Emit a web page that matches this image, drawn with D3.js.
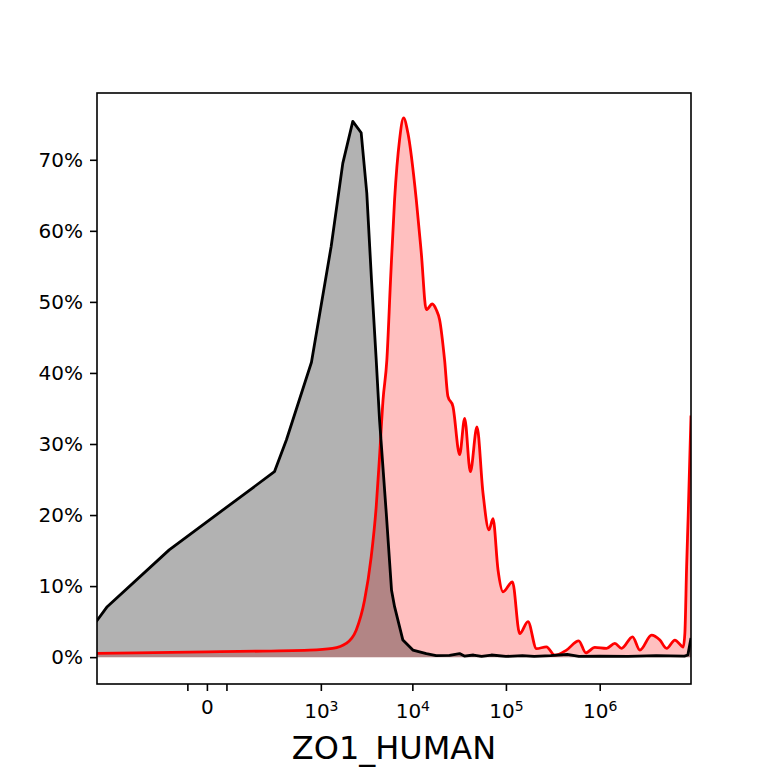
<!DOCTYPE html>
<html>
<head>
<meta charset="utf-8">
<script src="https://cdn.jsdelivr.net/npm/d3@7"></script>
<style>
  html, body { margin: 0; padding: 0; background: #fff; }
  text { font-family: "DejaVu Sans", sans-serif; fill: #000; }
</style>
</head>
<body>
<svg id="chart" width="768" height="768"></svg>
<script>
// ---- data (fluorescence intensity vs. % of max) ----
const redX = [-920, 0, 740, 1352, 1918, 2471, 3048, 3601, 4082, 4433, 4836, 5317, 5831, 6442, 7287, 8047, 8951,
  11017, 12466, 14110, 16360, 18050, 19580, 22150, 24030, 27180, 32060, 36270, 41740, 49100, 56920, 65960, 72800,
  82300, 93100, 117300, 140300, 171900, 211500, 270300, 331800, 442000, 598000, 711000, 886600, 1181700, 1449500,
  1709500, 2239000, 2680000, 3570000, 4380000, 5164000, 6334000, 7470000, 7760000, 8090000, 8440000, 8770000, 9400000];
const redY = [0.52, 0.75, 0.99, 1.23, 1.93, 3.8, 8.0, 14.1, 21.2, 28.2, 36.2, 41.8, 53.1, 64.4, 72.8, 75.9, 73.8,
  64.4, 56.9, 48.9, 49.7, 48.9, 47.5, 41.8, 36.7, 35.3, 28.5, 33.6, 26.1, 32.4, 23.1, 17.9, 19.5,
  12.3, 9.2, 10.6, 3.3, 5.0, 1.2, 1.45, 0.28, 0.99, 2.3, 0.6, 1.37, 1.23, 1.93,
  1.23, 2.86, 0.99, 3.1, 2.4, 1.23, 2.4, 1.55, 1.4, 3.4, 12.7, 19.8, 34.0];

const blackX = [-920, -686, -99, 276, 393, 781, 1307, 1760, 2268, 2802, 3225, 3627, 4082, 4433, 5239, 5974, 6442,
  7912, 10127, 14110, 18000, 25000, 32000, 36000, 45000, 55000, 70000, 100000, 150000, 200000, 300000, 450000,
  600000, 1000000, 2000000, 4000000, 8000000, 8700000, 9400000];
const blackY = [5.0, 7.1, 15.1, 26.1, 30.6, 41.5, 57.8, 69.5, 75.4, 73.8, 65.3, 53.1, 41.8, 33.4, 20.3, 9.4, 7.1,
  2.4, 1.0, 0.5, 0.2, 0.25, 0.5, 0.15, 0.3, 0.1, 0.3, 0.1, 0.2, 0.1, 0.2, 0.4,
  0.1, 0.15, 0.1, 0.2, 0.15, 0.3, 2.7];

const xMajorTicks = [0, 1e3, 1e4, 1e5, 1e6];
const xMinorTicks = [-40, 40];
const yTicks = [0, 10, 20, 30, 40, 50, 60, 70];
const xLabel = "ZO1_HUMAN";

// ---- layout ----
const L = 97, R = 691, T = 93, B = 684;
const svg = d3.select("#chart");

const x = d3.scaleSymlog().constant(65).domain([-900, 9.4e6]).range([L, R]);
const y = d3.scaleLinear().domain([-3.78, 79.4]).range([B, T]);

svg.append("defs").append("clipPath").attr("id", "clip")
  .append("rect").attr("x", L).attr("y", T).attr("width", R - L).attr("height", B - T);

const red = redX.map((v, i) => [v, redY[i]]);
const black = blackX.map((v, i) => [v, blackY[i]]);

const areaRed = d3.area().x(d => x(d[0])).y0(y(0)).y1(d => y(d[1])).curve(d3.curveMonotoneX);
const lineRed = d3.line().x(d => x(d[0])).y(d => y(d[1])).curve(d3.curveMonotoneX);
const areaBlack = d3.area().x(d => x(d[0])).y0(y(0)).y1(d => y(d[1])).curve(d3.curveLinear);
const lineBlack = d3.line().x(d => x(d[0])).y(d => y(d[1])).curve(d3.curveLinear);

const g = svg.append("g").attr("clip-path", "url(#clip)");
g.append("path").datum(red).attr("d", areaRed).attr("fill", "rgb(255,0,0)").attr("fill-opacity", 0.25);
g.append("path").datum(black).attr("d", areaBlack).attr("fill", "#000").attr("fill-opacity", 0.3);
g.append("path").datum(red).attr("d", lineRed).attr("fill", "none").attr("stroke", "#ff0000")
  .attr("stroke-width", 2.8).attr("stroke-linejoin", "round");
g.append("path").datum(black).attr("d", lineBlack).attr("fill", "none").attr("stroke", "#000")
  .attr("stroke-width", 2.8).attr("stroke-linejoin", "round");

// ---- axes ----
const yAxis = svg.append("g").attr("transform", `translate(${L},0)`)
  .call(d3.axisLeft(y).tickValues(yTicks).tickFormat(d => d + "%").tickSize(7).tickPadding(7));
yAxis.select(".domain").remove();
yAxis.selectAll("line").attr("stroke-width", 1.6);
yAxis.selectAll("text").attr("font-size", 20).attr("font-family", "DejaVu Sans").attr("fill", "#000");

const xAxis = svg.append("g").attr("transform", `translate(0,${B})`)
  .call(d3.axisBottom(x).tickValues(xMajorTicks).tickSize(7).tickFormat(""));
xAxis.select(".domain").remove();
xAxis.selectAll("line").attr("stroke-width", 1.6);
xAxis.selectAll(".tick text").remove();
xAxis.selectAll(".tick").each(function(d) {
  const t = d3.select(this).append("text").attr("text-anchor", "middle")
    .attr("font-size", 20).attr("font-family", "DejaVu Sans").attr("fill", "#000");
  if (d === 0) {
    t.attr("y", 30).text("0");
  } else {
    const p = Math.round(Math.log10(d));
    t.attr("y", 34);
    t.append("tspan").text("10");
    t.append("tspan").attr("font-size", 14).attr("dy", -7.5).text(p);
  }
});

const xMinor = svg.append("g").attr("transform", `translate(0,${B})`)
  .call(d3.axisBottom(x).tickValues(xMinorTicks).tickSize(7).tickFormat(""));
xMinor.select(".domain").remove();
xMinor.selectAll("line").attr("stroke-width", 1.6);

// frame
svg.append("rect").attr("x", L).attr("y", T).attr("width", R - L).attr("height", B - T)
  .attr("fill", "none").attr("stroke", "#000").attr("stroke-width", 1.6);

// x label
svg.append("text").attr("x", (L + R) / 2).attr("y", 759).attr("text-anchor", "middle")
  .attr("font-size", 32).attr("font-family", "DejaVu Sans").text(xLabel);
</script>
</body>
</html>
